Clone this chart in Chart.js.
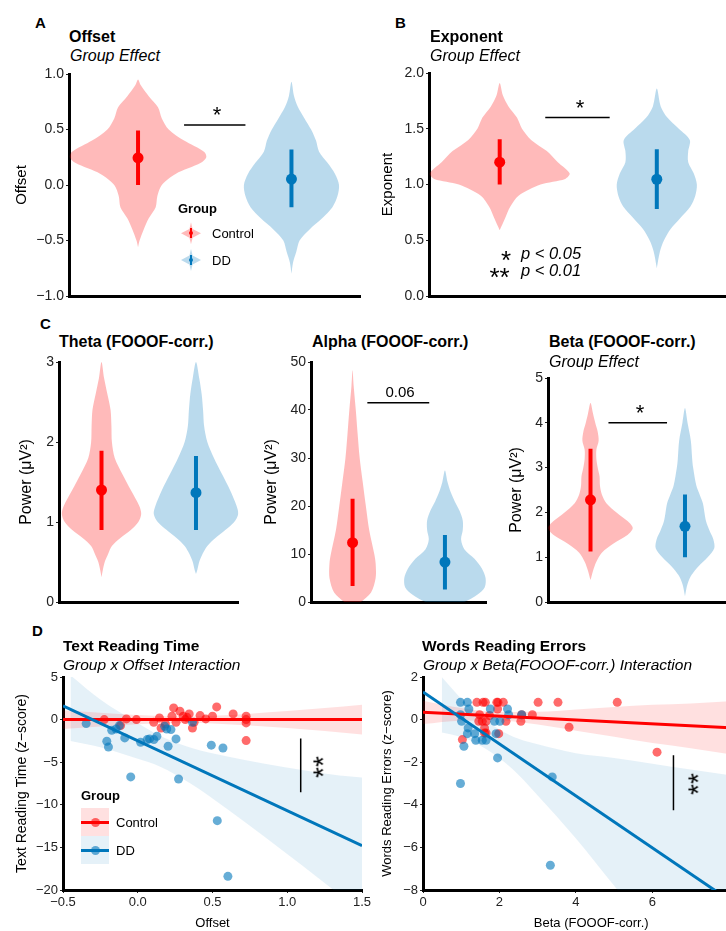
<!DOCTYPE html>
<html>
<head>
<meta charset="utf-8">
<script src="https://cdn.jsdelivr.net/npm/chart.js@4.4.0/dist/chart.umd.min.js"></script>
<style>
  html, body { margin: 0; padding: 0; background: #fff; overflow: hidden; }
  body { width: 726px; height: 931px; position: relative; font-family: 'Liberation Sans', Arial, sans-serif; color: #000; }
  canvas { position: absolute; }
  .t { position: absolute; line-height: 1; white-space: nowrap; }
  .k { position: absolute; }
</style>
</head>
<body>
<canvas id="cA"></canvas>
<canvas id="cB"></canvas>
<canvas id="cC1"></canvas>
<canvas id="cC2"></canvas>
<canvas id="cC3"></canvas>
<canvas id="cD1"></canvas>
<canvas id="cD2"></canvas>
<script>
// ---------- data ----------
const groups = ['Control', 'DD'];
const groupPos = [1, 2];

// A: offset (violin outline = y levels + half widths)
const offsetTicks = [-1, -0.5, 0, 0.5, 1];
const offsetCtrlY = [-0.56, -0.5, -0.4, -0.3, -0.2, -0.1, 0, 0.1, 0.2, 0.25, 0.3, 0.4, 0.5, 0.6, 0.7, 0.8, 0.9, 0.95];
const offsetCtrlW = [0, 0.01, 0.037, 0.07, 0.115, 0.126, 0.155, 0.245, 0.41, 0.445, 0.43, 0.3, 0.2, 0.155, 0.13, 0.07, 0.017, 0];
const offsetDDY = [-0.8, -0.7, -0.6, -0.5, -0.4, -0.3, -0.2, -0.1, 0, 0.1, 0.2, 0.3, 0.4, 0.5, 0.6, 0.7, 0.8, 0.93];
const offsetDDW = [0, 0.01, 0.032, 0.053, 0.118, 0.2, 0.267, 0.3, 0.31, 0.284, 0.235, 0.18, 0.16, 0.128, 0.085, 0.043, 0.017, 0];
const offsetMean = [0.245, 0.053];
const offsetLow = [0.0, -0.2];
const offsetHigh = [0.49, 0.32];
const offsetSigX = [1.3, 1.7];
const offsetSigY = [0.54, 0.54];

// B: exponent
const exponentTicks = [0, 0.5, 1, 1.5, 2];
const exponentCtrlY = [0.59, 0.7, 0.8, 0.9, 1.0, 1.05, 1.1, 1.2, 1.3, 1.4, 1.5, 1.6, 1.7, 1.8, 1.91];
const exponentCtrlW = [0, 0.035, 0.067, 0.12, 0.26, 0.417, 0.445, 0.37, 0.3, 0.2, 0.142, 0.11, 0.056, 0.02, 0];
const exponentDDY = [0.25, 0.4, 0.5, 0.6, 0.7, 0.8, 0.9, 1.0, 1.1, 1.2, 1.3, 1.4, 1.5, 1.6, 1.7, 1.86];
const exponentDDW = [0, 0.02, 0.046, 0.088, 0.15, 0.213, 0.245, 0.255, 0.235, 0.2, 0.2, 0.21, 0.14, 0.067, 0.025, 0];
const exponentMean = [1.2, 1.047];
const exponentLow = [1.0, 0.78];
const exponentHigh = [1.406, 1.317];
const exponentSigX = [1.29, 1.7];
const exponentSigY = [1.6, 1.6];

// C: theta / alpha / beta power
const thetaTicks = [0, 1, 2, 3];
const thetaCtrlY = [0.31, 0.4, 0.5, 0.6, 0.7, 0.8, 0.9, 1.0, 1.1, 1.2, 1.4, 1.6, 1.8, 2.0, 2.2, 2.4, 2.6, 2.8, 3.0];
const thetaCtrlW = [0, 0.014, 0.034, 0.07, 0.11, 0.2, 0.31, 0.39, 0.42, 0.4, 0.31, 0.22, 0.14, 0.11, 0.105, 0.096, 0.062, 0.027, 0];
const thetaDDY = [0.35, 0.4, 0.5, 0.6, 0.7, 0.8, 0.9, 1.0, 1.1, 1.2, 1.4, 1.6, 1.8, 2.0, 2.2, 2.4, 2.6, 2.8, 3.0];
const thetaDDW = [0, 0.014, 0.034, 0.069, 0.12, 0.206, 0.31, 0.405, 0.447, 0.43, 0.36, 0.275, 0.19, 0.12, 0.086, 0.075, 0.06, 0.034, 0];
const thetaMean = [1.4, 1.367];
const thetaLow = [0.9, 0.9];
const thetaHigh = [1.89, 1.825];

const alphaTicks = [0, 10, 20, 30, 40, 50];
const alphaCtrlY = [-1.5, 0, 2, 5, 8, 10, 15, 20, 25, 30, 35, 40, 45, 48.3];
const alphaCtrlW = [0, 0.09, 0.2, 0.25, 0.25, 0.235, 0.18, 0.144, 0.11, 0.077, 0.055, 0.035, 0.012, 0];
const alphaDDY = [-1.5, 0, 1.5, 3, 5, 7, 9, 11, 13, 15, 17, 19, 21, 23, 25, 27.4];
const alphaDDW = [0, 0.21, 0.35, 0.43, 0.44, 0.4, 0.32, 0.21, 0.175, 0.193, 0.193, 0.158, 0.105, 0.06, 0.028, 0];
const alphaMean = [12.36, 8.33];
const alphaLow = [3.33, 2.6];
const alphaHigh = [21.5, 13.96];
const alphaSigX = [1.16, 1.83];
const alphaSigY = [41.5, 41.5];

const betaTicks = [0, 1, 2, 3, 4, 5];
const betaCtrlY = [0.49, 0.7, 0.9, 1.1, 1.3, 1.5, 1.65, 1.8, 2.0, 2.2, 2.4, 2.6, 2.8, 3.0, 3.2, 3.4, 3.6, 3.8, 4.0, 4.2, 4.44];
const betaCtrlW = [0, 0.027, 0.062, 0.12, 0.24, 0.395, 0.447, 0.395, 0.275, 0.17, 0.12, 0.1, 0.096, 0.076, 0.062, 0.062, 0.086, 0.076, 0.05, 0.027, 0];
const betaDDY = [0.13, 0.4, 0.6, 0.8, 1.0, 1.2, 1.4, 1.6, 1.8, 2.0, 2.2, 2.4, 2.6, 3.0, 3.2, 3.6, 4.0, 4.33];
const betaDDW = [0, 0.027, 0.069, 0.144, 0.24, 0.31, 0.3, 0.258, 0.223, 0.206, 0.19, 0.155, 0.12, 0.086, 0.076, 0.062, 0.027, 0];
const betaMean = [2.28, 1.69];
const betaLow = [1.13, 1.0];
const betaHigh = [3.42, 2.4];
const betaSigX = [1.19, 1.81];
const betaSigY = [4.0, 4.0];

// D left: text reading time vs offset
const textTicksX = [-0.5, 0, 0.5, 1, 1.5];
const textTicksY = [-20, -15, -10, -5, 0, 5];
const textCtrlX = [-0.224, -0.115, -0.076, -0.009, 0.107, 0.145, 0.156, 0.185, 0.229, 0.24, 0.256, 0.282, 0.304, 0.318, 0.329, 0.344, 0.366, 0.377, 0.417, 0.455, 0.5, 0.528, 0.638, 0.725, 0.725, 0.725, 0.725];
const textCtrlY = [0, -0.7, 0.08, 0, -0.31, 0.2, -0.98, -0.51, 0.39, 1.37, -0.31, 0.98, 0.39, 0, 0.27, 0.67, -0.98, -0.31, 0.47, 0.08, 0.39, 1.49, 0.67, 0.39, 0, -0.39, -2.46];
const textDDX = [-0.345, -0.207, -0.196, -0.174, -0.145, -0.123, -0.087, -0.047, 0.019, 0.063, 0.079, 0.108, 0.128, 0.18, 0.194, 0.203, 0.222, 0.256, 0.273, 0.366, 0.492, 0.532, 0.57, 0.603];
const textDDY = [-0.47, -2.54, -3.21, -1.25, -1.1, -0.7, -2.15, -6.73, -2.66, -2.35, -2.27, -2.35, -1.96, -0.78, -1.1, -3.13, -1.17, -2.27, -6.97, -0.31, -3.0, -11.86, -3.33, -18.4];
const textFitX = [-0.5, 1.5];
const textFitCtrl = [0, 0];
const textFitDD = [1.6, -14.8];
const textBandCtrlX = [-0.5, -0.25, 0, 0.3, 0.5, 0.75, 1.0, 1.25, 1.5];
const textBandCtrlHi = [1.1, 0.8, 0.55, 0.35, 0.45, 0.7, 1.0, 1.35, 1.75];
const textBandCtrlLo = [-1.1, -0.8, -0.55, -0.35, -0.45, -0.7, -1.0, -1.35, -1.75];
const textBandDDX = [-0.45, -0.25, 0, 0.15, 0.35, 0.6, 0.85, 1.1, 1.35, 1.5];
const textBandDDHi = [5.2, 2.35, -0.4, -1.93, -3.27, -4.32, -5.17, -5.92, -6.57, -6.8];
const textBandDDLo = [-2.51, -3.25, -4.6, -5.53, -7.47, -10.52, -13.77, -17.12, -20.57, -22.8];
const textSigX = [1.09, 1.09];
const textSigY = [-2.23, -8.53];

// D right: word reading errors vs beta
const wordsTicksX = [0, 2, 4, 6];
const wordsTicksY = [-8, -6, -4, -2, 0, 2];
const wordsCtrlX = [1.41, 1.57, 1.63, 1.93, 1.96, 2.1, 3.01, 3.53, 5.08, 1.48, 1.46, 1.55, 1.65, 1.74, 1.95, 2.17, 2.58, 2.86, 2.56, 1.61, 1.61, 1.65, 1.98, 1.03, 3.82, 6.12];
const wordsCtrlY = [0.81, 0.81, 0.81, 0.81, 0.81, 0.81, 0.81, 0.81, 0.81, 0.23, -0.08, -0.08, -0.08, 0.19, 0.5, -0.08, 0.23, 0.23, -0.08, -0.4, -0.63, -0.63, -0.66, -0.94, -0.36, -1.53];
const wordsDDX = [0.98, 1.16, 1.2, 0.98, 1.01, 1.18, 1.16, 1.35, 1.38, 1.55, 1.65, 1.07, 0.98, 1.76, 1.87, 2.01, 1.91, 2.21, 2.24, 2.58, 1.95, 3.38, 3.33];
const wordsDDY = [0.81, 0.81, 0.5, 0.23, -0.08, -0.39, -0.66, -0.66, -0.97, -0.97, -0.97, -1.25, -3.0, 0.5, -0.08, -0.08, -0.66, 0.5, 0.23, 0.23, -1.8, -2.69, -6.84];
const wordsFitX = [0, 8.8];
const wordsFitCtrl = [0.34, -0.45];
const wordsFitDD = [1.3, -9.44];
const wordsBandCtrlX = [0, 1, 2, 3, 4, 5, 6, 7, 8.8];
const wordsBandCtrlHi = [0.89, 0.55, 0.36, 0.37, 0.48, 0.59, 0.7, 0.76, 0.95];
const wordsBandCtrlLo = [-0.21, -0.05, -0.04, -0.23, -0.52, -0.81, -1.1, -1.34, -1.85];
const wordsBandDDX = [0.49, 1, 1.5, 2, 2.5, 3, 4, 5, 6, 7, 8.8];
const wordsBandDDHi = [2.0, 0.98, 0.17, -0.46, -0.9, -1.16, -1.58, -1.8, -2.07, -2.34, -2.8];
const wordsBandDDLo = [-0.6, -0.82, -1.23, -1.82, -2.6, -3.56, -5.58, -7.8, -10, -12.1, -16];
const wordsSigX = [6.55, 6.55];
const wordsSigY = [-1.67, -4.25];

// ---------- styles ----------
const RED = '#ff0000', BLUE = '#0077bb';
const RED_VIOLIN = 'rgba(255,0,0,0.27)', BLUE_VIOLIN = 'rgba(0,119,187,0.27)';
const RED_PT = 'rgba(255,0,0,0.58)', BLUE_PT = 'rgba(0,119,187,0.6)';
const RED_BAND = 'rgba(255,0,0,0.12)', BLUE_BAND = 'rgba(0,119,187,0.1)';
const NONE = 'rgba(0,0,0,0)';

Chart.defaults.font.family = "'Liberation Sans', Arial, sans-serif";
Chart.defaults.color = '#222';

const fmt = (v, d) => Number(v).toFixed(d).replace('-', '\u2212');
const pts = (xs, ys) => xs.map((x, i) => ({x: x, y: ys[i]}));

function violin(pos, ys, ws, color) {
    const right = ys.map((y, i) => ({x: pos + ws[i], y: y}));
    const left = ys.map((y, i) => ({x: pos - ws[i], y: y})).reverse().slice(1);
    return {data: right.concat(left), showLine: true, fill: 'shape', backgroundColor: color,
        borderColor: NONE, borderWidth: 0, pointRadius: 0, tension: 0.3};
}

function segment(xs, ys, color, width) {
    return {data: pts(xs, ys), showLine: true, fill: false, borderColor: color,
        borderWidth: width, pointRadius: 0, borderCapStyle: 'butt'};
}

function means(vals) {
    return {data: pts(groupPos, vals), pointRadius: 5.5, pointBackgroundColor: [RED, BLUE], pointBorderWidth: 0};
}

function bandEdge(xs, ys, color, fillNext) {
    return {data: pts(xs, ys), showLine: true, fill: fillNext ? '+1' : false, backgroundColor: color,
        borderColor: NONE, borderWidth: 0, pointRadius: 0, cubicInterpolationMode: 'monotone'};
}

function dots(xs, ys, color) {
    return {data: pts(xs, ys), pointRadius: 4.5, pointBackgroundColor: color, pointBorderWidth: 0};
}

function violinSets(ctrlY, ctrlW, ddY, ddW, mean, low, high, sigX, sigY) {
    const sets = [
        means(mean),
        segment([1, 1], [low[0], high[0]], RED, 4),
        segment([2, 2], [low[1], high[1]], BLUE, 4)
    ];
    if (sigX) sets.push(segment(sigX, sigY, '#000', 1.5));
    sets.push(violin(1, ctrlY, ctrlW, RED_VIOLIN));
    sets.push(violin(2, ddY, ddW, BLUE_VIOLIN));
    return sets;
}

function axis(a, size, dir) {
    const s = {
        type: 'linear', min: a.min, max: a.max,
        ticks: {display: !!a.ticks, callback: v => fmt(v, a.dec || 0), font: {size: a.tickSize || 14},
            color: '#222', padding: 2, autoSkip: false, maxRotation: 0},
        grid: {display: !!a.ticks, drawOnChartArea: false, drawTicks: true, tickLength: 3, color: '#222', lineWidth: 1},
        border: {display: true, color: '#000', width: 3},
        title: {display: !!a.title, text: a.title || '', font: {size: a.titleSize || 15}, color: '#000',
            padding: a.titlePad || {top: 0, bottom: 0}},
        afterFit: sc => {
            if (dir === 'x') sc.height = size; else sc.width = size;
            sc.paddingLeft = 0; sc.paddingRight = 0; sc.paddingTop = 0; sc.paddingBottom = 0;
        }
    };
    if (a.ticks) s.afterBuildTicks = sc => { sc.ticks = a.ticks.map(v => ({value: v})); };
    return s;
}

function makeChart(id, box, datasets, xa, ya) {
    const canvas = document.getElementById(id);
    canvas.width = box.w;
    canvas.height = box.h;
    canvas.style.left = box.x + 'px';
    canvas.style.top = box.y + 'px';
    new Chart(canvas, {
        type: 'scatter',
        data: {datasets: datasets},
        options: {
            responsive: false,
            animation: false,
            events: [],
            layout: {padding: {top: box.padTop, right: box.padRight || 0, left: 0, bottom: 0}},
            plugins: {legend: {display: false}, tooltip: {enabled: false}},
            scales: {x: axis(xa, box.xH, 'x'), y: axis(ya, box.yW, 'y')}
        }
    });
}

const violinX = {min: 0.55, max: 2.45};
const power = 'Power (\u03bcV\u00b2)';

makeChart('cA', {x: 0, y: 64, w: 366, h: 244, yW: 69, xH: 12, padTop: 10},
    violinSets(offsetCtrlY, offsetCtrlW, offsetDDY, offsetDDW, offsetMean, offsetLow, offsetHigh, offsetSigX, offsetSigY),
    violinX, {min: -1, max: 1, ticks: offsetTicks, dec: 1, title: 'Offset', titlePad: {top: 13, bottom: 0}});

makeChart('cB', {x: 363, y: 63, w: 370, h: 245, yW: 66, xH: 12, padTop: 10},
    violinSets(exponentCtrlY, exponentCtrlW, exponentDDY, exponentDDW, exponentMean, exponentLow, exponentHigh, exponentSigX, exponentSigY),
    violinX, {min: 0, max: 2, ticks: exponentTicks, dec: 1, title: 'Exponent', titlePad: {top: 16, bottom: 0}});

makeChart('cC1', {x: 0, y: 352, w: 244, h: 262, yW: 59, xH: 12, padTop: 10},
    violinSets(thetaCtrlY, thetaCtrlW, thetaDDY, thetaDDW, thetaMean, thetaLow, thetaHigh),
    violinX, {min: 0, max: 3, ticks: thetaTicks, dec: 0, title: power, titleSize: 16, titlePad: {top: 17, bottom: 0}});

makeChart('cC2', {x: 250, y: 352, w: 242, h: 262, yW: 61, xH: 12, padTop: 10},
    violinSets(alphaCtrlY, alphaCtrlW, alphaDDY, alphaDDW, alphaMean, alphaLow, alphaHigh, alphaSigX, alphaSigY),
    violinX, {min: 0, max: 50, ticks: alphaTicks, dec: 0, title: power, titleSize: 16, titlePad: {top: 12, bottom: 0}});

makeChart('cC3', {x: 490, y: 368, w: 243, h: 246, yW: 58, xH: 12, padTop: 10},
    violinSets(betaCtrlY, betaCtrlW, betaDDY, betaDDW, betaMean, betaLow, betaHigh, betaSigX, betaSigY),
    violinX, {min: 0, max: 5, ticks: betaTicks, dec: 0, title: power, titleSize: 16, titlePad: {top: 17, bottom: 0}});

makeChart('cD1', {x: 0, y: 667, w: 375, h: 264, yW: 63, xH: 41, padTop: 10, padRight: 13},
    [
        segment(textFitX, textFitDD, BLUE, 3),
        segment(textFitX, textFitCtrl, RED, 3),
        segment(textSigX, textSigY, '#000', 1.5),
        dots(textDDX, textDDY, BLUE_PT),
        dots(textCtrlX, textCtrlY, RED_PT),
        bandEdge(textBandCtrlX, textBandCtrlHi, RED_BAND, true),
        bandEdge(textBandCtrlX, textBandCtrlLo, RED_BAND, false),
        bandEdge(textBandDDX, textBandDDHi, BLUE_BAND, true),
        bandEdge(textBandDDX, textBandDDLo, BLUE_BAND, false)
    ],
    {min: -0.5, max: 1.5, ticks: textTicksX, dec: 1, tickSize: 13, title: 'Offset', titleSize: 13},
    {min: -20, max: 5, ticks: textTicksY, dec: 0, tickSize: 13, title: 'Text Reading Time (z\u2212score)', titleSize: 14, titlePad: {top: 14, bottom: 0}});

makeChart('cD2', {x: 363, y: 667, w: 401, h: 264, yW: 60, xH: 41, padTop: 10},
    [
        segment(wordsFitX, wordsFitDD, BLUE, 3),
        segment(wordsFitX, wordsFitCtrl, RED, 3),
        segment(wordsSigX, wordsSigY, '#000', 1.5),
        dots(wordsDDX, wordsDDY, BLUE_PT),
        dots(wordsCtrlX, wordsCtrlY, RED_PT),
        bandEdge(wordsBandCtrlX, wordsBandCtrlHi, RED_BAND, true),
        bandEdge(wordsBandCtrlX, wordsBandCtrlLo, RED_BAND, false),
        bandEdge(wordsBandDDX, wordsBandDDHi, BLUE_BAND, true),
        bandEdge(wordsBandDDX, wordsBandDDLo, BLUE_BAND, false)
    ],
    {min: 0, max: 8.8, ticks: wordsTicksX, dec: 0, tickSize: 13, title: 'Beta (FOOOF-corr.)', titleSize: 13},
    {min: -8, max: 2, ticks: wordsTicksY, dec: 0, tickSize: 13, title: 'Words Reading Errors (z\u2212score)', titleSize: 13, titlePad: {top: 17, bottom: 0}});

// ---------- text and legends ----------
function addText(str, x, base, size, style, align) {
    const d = document.createElement('div');
    d.className = 't';
    d.textContent = str;
    d.style.fontSize = size + 'px';
    d.style.left = x + 'px';
    d.style.top = (base - 0.847 * size) + 'px';
    if (style === 'bold') d.style.fontWeight = 'bold';
    if (style === 'italic') d.style.fontStyle = 'italic';
    if (align === 'center') d.style.transform = 'translateX(-50%)';
    document.body.appendChild(d);
}

function addStars(str, cx, cy, size, rotate) {
    const d = document.createElement('div');
    d.className = 't';
    d.textContent = str;
    d.style.fontSize = size + 'px';
    d.style.left = cx + 'px';
    d.style.top = cy + 'px';
    d.style.transform = 'translate(-50%,-50%)' + (rotate ? ' rotate(-90deg)' : '') + ' translateY(' + (0.23 * size) + 'px)';
    document.body.appendChild(d);
}

function box(x, y, w, h, css) {
    const d = document.createElement('div');
    d.className = 'k';
    d.style.cssText += 'left:' + x + 'px;top:' + y + 'px;width:' + w + 'px;height:' + h + 'px;' + css;
    document.body.appendChild(d);
}

addText('A', 35, 28, 15, 'bold');
addText('Offset', 69, 42.7, 16, 'bold');
addText('Group Effect', 70, 61.7, 16, 'italic');
addText('B', 395, 28, 15, 'bold');
addText('Exponent', 430, 42.7, 16, 'bold');
addText('Group Effect', 430, 61.7, 16, 'italic');
addText('C', 40, 329, 15, 'bold');
addText('Theta (FOOOF-corr.)', 59, 347.5, 16, 'bold');
addText('Alpha (FOOOF-corr.)', 312, 348, 16, 'bold');
addText('Beta (FOOOF-corr.)', 549, 347.5, 16, 'bold');
addText('Group Effect', 549, 367.3, 16, 'italic');
addText('D', 32, 636, 15, 'bold');
addText('Text Reading Time', 63, 651, 15.5, 'bold');
addText('Group x Offset Interaction', 63, 670, 15.5, 'italic');
addText('Words Reading Errors', 422, 651, 15.5, 'bold');
addText('Group x Beta(FOOOF-corr.) Interaction', 423, 670, 15.5, 'italic');

// significance marks
addStars('*', 217, 110, 22);
addStars('*', 580, 103, 22);
addStars('*', 640, 408, 22);
addText('0.06', 400, 397, 15, '', 'center');
addStars('**', 317, 767, 28, true);
addStars('**', 692, 784, 28, true);
addStars('*', 506, 254, 26);
addStars('**', 499.5, 271, 26);
addText('p < 0.05', 521, 258.5, 16.5, 'italic');
addText('p < 0.01', 521, 275.5, 16.5, 'italic');

// legend A (violin keys)
addText('Group', 178, 212.7, 13, 'bold');
const keyShape = 'clip-path:polygon(50% 0,58% 30%,100% 50%,58% 70%,50% 100%,42% 70%,0 50%,42% 30%);';
[[233.3, RED_VIOLIN, RED], [260, BLUE_VIOLIN, BLUE]].forEach((k, i) => {
    box(181, k[0] - 11, 20, 22, 'background:' + k[1] + ';' + keyShape);
    box(190, k[0] - 5, 2, 10, 'background:' + k[2] + ';');
    box(189, k[0] - 2, 4, 4, 'background:' + k[2] + ';border-radius:50%;');
    addText(groups[i], 212, k[0] + 5.2, 13);
});

// legend D (line + band keys)
addText('Group', 81, 800, 13, 'bold');
[[808, RED_BAND, RED, RED_PT], [836, BLUE_BAND, BLUE, BLUE_PT]].forEach((k, i) => {
    box(81, k[0], 28, 28, 'background:' + k[1] + ';');
    box(81, k[0] + 12.5, 28, 3, 'background:' + k[2] + ';');
    box(90.5, k[0] + 9.5, 9, 9, 'background:' + k[3] + ';border-radius:50%;');
    addText(groups[i], 116, k[0] + 18.7, 13);
});
</script>
</body>
</html>
